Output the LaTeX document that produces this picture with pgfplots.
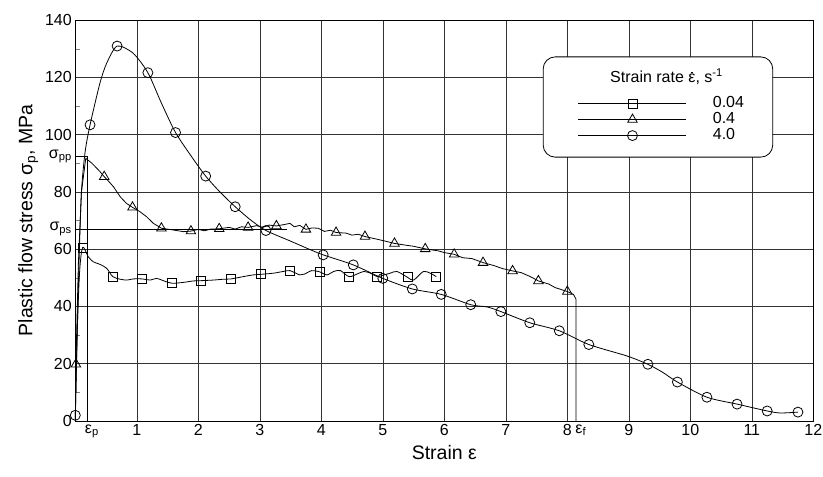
\documentclass[border=0pt]{standalone}
\usepackage{fontspec}
\setmainfont{Liberation Sans}
\usepackage{pgfplots}
\pgfplotsset{compat=1.18}
\begin{document}
\begin{tikzpicture}
\begin{axis}[
 width=738pt, height=401pt, scale only axis,
 xmin=0, xmax=12, ymin=0, ymax=140,
 clip=false,
 xtick={1,...,12}, ytick={0,20,...,140},
 minor y tick num=1,
 extra x ticks={0.27,8.22}, extra x tick labels={ε\textsubscript{p},ε\textsubscript{f}},
 extra x tick style={grid=none, major tick length=0pt},
 extra y ticks={92.3,67.1}, extra y tick labels={σ\textsubscript{pp},σ\textsubscript{ps}},
 extra y tick style={grid=none, major tick length=0pt},
 grid=major, major grid style={black!80, line width=0.6pt},
 axis line style={line width=0.8pt},
 tick align=inside, tick pos=left,
 major tick length=0pt, minor tick length=5pt,
 tick label style={font=\fontsize{16}{18}\selectfont},
 /pgf/number format/assume math mode=true,
 label style={font=\fontsize{19.5}{23}\selectfont},
 xlabel={Strain ε}, ylabel={Plastic flow stress σ\textsubscript{p}, MPa},
 legend image code/.code={\draw[mark repeat=2,mark phase=2] plot coordinates {(0pt,0pt)(54pt,0pt)(108pt,0pt)};},
 legend style={at={(rel axis cs:0.681,0.812)}, anchor=north west, draw=none, fill=none, inner sep=0pt,
   column sep=25pt, row sep=0pt, font=\fontsize{16}{18}\selectfont,
   nodes={inner sep=1pt, text height=11pt, text depth=3pt}},
 legend cell align=left,
]
% reference lines
\addplot[black, line width=0.6pt, forget plot] coordinates {(0,92.3)(0.19,92.3)(0.19,0)};
\addplot[black, line width=0.6pt, forget plot] coordinates {(0,67.1)(3.45,67.1)};
% 0.04 s^-1
\addplot[black, line width=0.8pt, smooth, tension=0.5, forget plot] coordinates {
(0,0)(0.03,30)(0.07,52)(0.12,60.6)(0.21,57.4)(0.29,55.6)(0.40,54.7)(0.51,53.3)(0.61,50.4)(0.73,49.5)(0.84,49.2)(0.94,49.6)(1.09,49.6)(1.22,49.2)(1.32,49.8)(1.43,49.0)(1.57,48.1)(1.76,48.4)(1.92,48.9)(2.05,49.0)(2.24,49.2)(2.41,49.5)(2.53,49.6)(2.73,50.4)(2.89,51.0)(3.01,51.2)(3.22,51.6)(3.38,52.2)(3.49,52.5)(3.65,51.0)(3.73,51.3)(3.84,52.5)(3.97,52.1)(4.09,51.0)(4.20,52.2)(4.31,52.5)(4.45,50.4)(4.58,51.3)(4.69,52.2)(4.80,51.6)(4.91,50.4)(5.02,51.0)(5.12,51.6)(5.23,52.2)(5.40,50.2)(5.50,49.2)(5.66,52.2)(5.77,51.6)(5.87,50.4)};
% 0.4 s^-1
\addplot[black, line width=0.8pt, forget plot] coordinates {
(0,0)(0.01,19.8)(0.05,55)(0.1,80)(0.17,91.7)(0.27,90.0)(0.40,87.1)(0.47,85.3)(0.55,83.5)(0.62,81.8)(0.73,78.3)(0.83,76.0)(0.93,74.6)(1.05,73.1)(1.16,71.3)(1.27,69.0)(1.40,67.3)(1.59,66.7)(1.76,66.1)(1.88,66.3)(2.0,66.9)(2.1,66.4)(2.2,67.0)(2.34,67.1)(2.5,67.6)(2.6,67.0)(2.7,67.8)(2.81,67.6)(2.95,68.2)(3.05,67.6)(3.15,68.4)(3.27,68.1)(3.4,68.6)(3.49,69.0)(3.56,67.8)(3.65,68.3)(3.75,66.9)(3.85,67.4)(3.95,67.3)(4.05,66.2)(4.15,66.6)(4.24,65.8)(4.4,65.6)(4.5,64.9)(4.6,65.2)(4.71,64.4)(4.9,63.5)(5.0,63.0)(5.19,62.0)(5.4,61.3)(5.5,61.0)(5.69,60.1)(5.9,59.4)(6.0,58.8)(6.16,58.2)(6.3,57.0)(6.45,56.7)(6.63,55.3)(6.8,54.3)(6.95,53.2)(7.11,52.4)(7.25,51.8)(7.4,50.4)(7.53,48.9)(7.7,47.8)(7.8,46.6)(8.0,45.2)(8.1,44.2)(8.14,42.6)(8.14,0)};
% 4.0 s^-1
\addplot[black, line width=0.8pt, smooth, tension=0.45, forget plot] coordinates {
(0,2)(0.02,20)(0.06,55)(0.1,80)(0.16,94)(0.24,103.4)(0.40,117.9)(0.51,124.9)(0.68,130.9)(0.94,128.4)(1.18,121.6)(1.4,111)(1.63,100.7)(1.9,92)(2.12,85.5)(2.35,80)(2.6,74.8)(2.85,70.2)(3.1,66.5)(3.5,62.8)(3.8,60)(4.03,58)(4.52,54.5)(5.0,49.8)(5.48,46.1)(5.95,44.2)(6.43,40.6)(6.7,39.8)(6.92,38.2)(7.39,34.3)(7.87,31.5)(8.35,26.7)(8.97,22.7)(9.31,19.8)(9.55,17.0)(9.79,13.6)(10.27,8.3)(10.76,5.9)(11.25,3.5)(11.46,2.8)(11.75,3.1)};
% markers
\addplot[only marks, mark=square, mark size=4.5pt, mark options={black, line width=0.8pt, fill=white}, forget plot] coordinates {
(0.12,60.6)(0.61,50.4)(1.09,49.6)(1.57,48.1)(2.05,49.0)(2.53,49.6)(3.01,51.2)(3.49,52.5)(3.97,52.1)(4.45,50.4)(4.91,50.4)(5.40,50.2)(5.87,50.4)};
\addplot[only marks, mark=triangle, mark size=5.5pt, mark options={black, line width=0.8pt, fill=white}, forget plot] coordinates {
(0.01,19.8)(0.47,85.3)(0.93,74.6)(1.40,67.3)(1.88,66.3)(2.34,67.1)(2.81,67.6)(3.27,68.1)(3.75,66.9)(4.24,65.8)(4.71,64.4)(5.19,62.0)(5.69,60.1)(6.16,58.2)(6.63,55.3)(7.11,52.4)(7.53,48.9)(8.0,45.2)};
\addplot[only marks, mark=o, mark size=5pt, mark options={black, line width=0.8pt, fill=white}, forget plot] coordinates {
(0,2)(0.24,103.4)(0.68,130.9)(1.18,121.6)(1.63,100.7)(2.12,85.5)(2.60,74.8)(3.10,66.5)(4.03,58.0)(4.52,54.5)(5.00,49.8)(5.48,46.1)(5.95,44.2)(6.43,40.6)(6.92,38.2)(7.39,34.3)(7.87,31.5)(8.35,26.7)(9.31,19.8)(9.79,13.6)(10.27,8.3)(10.76,5.9)(11.25,3.5)(11.75,3.1)};
% legend box and title
\draw[black, line width=0.8pt, fill=white, rounded corners=12pt] (rel axis cs:0.634,0.908) rectangle (rel axis cs:0.945,0.658);
\node[anchor=base west, inner sep=0pt, font=\fontsize{16}{18}\selectfont] at (rel axis cs:0.7245,0.843) {Strain rate \makebox[0pt][l]{\hspace{2.6pt}\rule[9.6pt]{1.8pt}{1.8pt}}ε, s\textsuperscript{-1}};
\addlegendimage{black, line width=0.8pt, mark=square, mark size=4.5pt, mark options={solid, fill=white}}
\addlegendentry{0.04}
\addlegendimage{black, line width=0.8pt, mark=triangle, mark size=5.5pt, mark options={solid, fill=white}}
\addlegendentry{0.4}
\addlegendimage{black, line width=0.8pt, mark=o, mark size=5pt, mark options={solid, fill=white}}
\addlegendentry{4.0}
\end{axis}
\pgfresetboundingbox
\path[use as bounding box] ([shift={(-75.3pt,-55pt)}]current axis.south west) rectangle ([shift={(9.7pt,20pt)}]current axis.north east);
\end{tikzpicture}
\end{document}
